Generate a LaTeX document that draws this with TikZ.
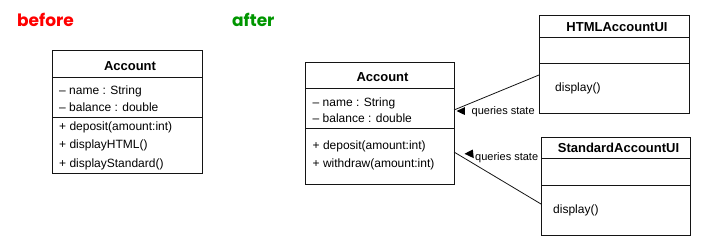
\documentclass[tikz,border=0pt]{standalone}
\usepackage{fontspec}
\setmainfont{Liberation Sans}
\newfontfamily\titlefont{Poppins}
\usetikzlibrary{calc}
\definecolor{beforered}{RGB}{255,0,0}
\definecolor{aftergreen}{RGB}{0,150,0}
\definecolor{umlline}{RGB}{20,20,20}

\begin{document}
\begin{tikzpicture}[x=1pt,y=-1pt,
  comp/.style n args={2}{draw=umlline, line width=0.9pt, minimum width=#1,
    minimum height=#2, anchor=north west, inner sep=0pt, outer sep=0pt},
  headtxt/.style={font=\fontsize{13}{15}\selectfont\bfseries, inner sep=0pt},
  bodytxt/.style={font=\fontsize{12}{14}\selectfont, inner sep=0pt, anchor=base west},
  labtxt/.style={font=\fontsize{11}{13}\selectfont, inner sep=0pt, anchor=base west},
  title/.style={font=\fontsize{17}{19}\selectfont\titlefont\bfseries, inner sep=0pt, anchor=base west},
  assoc/.style={draw=umlline, line width=0.8pt},
  dirmark/.style={fill=black, draw=none}]
\useasboundingbox (0,0) rectangle (709,243);

% headings
\node[title, text=beforered] (tbefore) at (17,26.7) {before};
\node[title, text=aftergreen] (tafter) at (232,26.7) {after};

% ---- before: single Account class
\node[comp={150pt}{27pt}] (bhead) at (52,50) {};
\node[comp={150pt}{40pt}] (battr) at (bhead.south west) {};
\node[comp={150pt}{56pt}] (bmeth) at (battr.south west) {};
\node[headtxt] (bname) at ([xshift=3pt,yshift=-2.5pt]bhead.center) {Account};
\node[bodytxt] (ba1) at (59,95) {– name : String};
\node[bodytxt] (ba2) at (59,112) {– balance : double};
\node[bodytxt] (bm1) at (59,131) {+ deposit(amount:int)};
\node[bodytxt] (bm2) at (59,148) {+ displayHTML()};
\node[bodytxt] (bm3) at (59,167) {+ displayStandard()};

% ---- after: Account class
\node[comp={149pt}{26pt}] (ahead) at (305,62) {};
\node[comp={149pt}{40pt}] (aattr) at (ahead.south west) {};
\node[comp={149pt}{56pt}] (ameth) at (aattr.south west) {};
\node[headtxt] (aname) at ([xshift=3pt,yshift=-1.7pt]ahead.center) {Account};
\node[bodytxt] (aa1) at (312.5,106.5) {– name : String};
\node[bodytxt] (aa2) at (312.5,123) {– balance : double};
\node[bodytxt] (am1) at (312.5,149.5) {+ deposit(amount:int)};
\node[bodytxt] (am2) at (312.5,167.5) {+ withdraw(amount:int)};

% ---- after: HTMLAccountUI class
\node[comp={150pt}{22pt}] (hhead) at (539,15) {};
\node[comp={150pt}{26pt}] (hattr) at (hhead.south west) {};
\node[comp={150pt}{50pt}] (hmeth) at (hattr.south west) {};
\node[headtxt] (hname) at ([xshift=3pt,yshift=-0.7pt]hhead.center) {HTMLAccountUI};
\node[bodytxt] (hm1) at (555,91.3) {display()};

% ---- after: StandardAccountUI class
\node[comp={149pt}{21pt}] (shead) at (541,137) {};
\node[comp={149pt}{27pt}] (sattr) at (shead.south west) {};
\node[comp={149pt}{50pt}] (smeth) at (sattr.south west) {};
\node[headtxt] (sname) at ([xshift=3pt,yshift=-0.8pt]shead.center) {StandardAccountUI};
\node[bodytxt] (sm1) at (553,213.3) {display()};

% ---- associations with reading-direction marks
\draw[assoc] ([yshift=-12pt]hmeth.north west) -- ([yshift=-22pt]aattr.north east);
\node[labtxt] (q1) at (471.5,114.5) {queries state};
\fill[dirmark] (456.5,111) -- (464.8,107.2) -- (464.8,115) -- cycle;

\draw[assoc] ([yshift=-19pt]smeth.north west) -- ([yshift=-24pt]ameth.north east);
\node[labtxt] (q2) at (475,160.5) {queries state};
\fill[dirmark] (464.5,153.8) -- (472.8,149.5) -- (473.8,158.2) -- cycle;
\end{tikzpicture}
\end{document}
